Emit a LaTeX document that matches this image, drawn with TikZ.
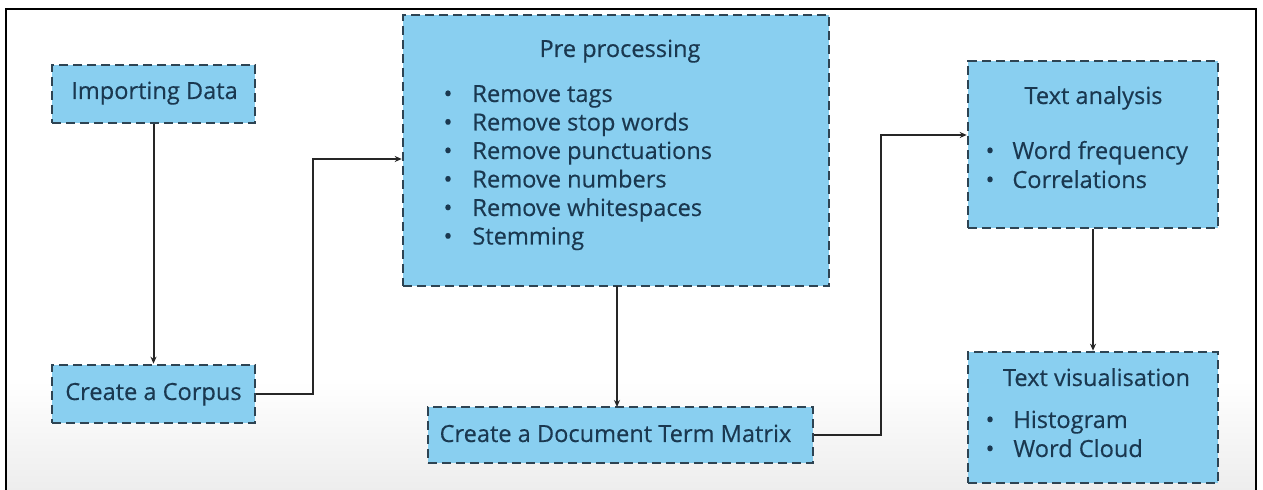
\documentclass[tikz,border=0pt]{standalone}
\usepackage{fontspec}
\setmainfont{Open Sans}
\newfontfamily\boxfont[FakeBold=0.35]{Open Sans}
\usetikzlibrary{fit,arrows.meta,calc}
\definecolor{boxfill}{HTML}{89CFF0}
\definecolor{boxline}{HTML}{2E4453}
\definecolor{txt}{HTML}{1A3850}
\begin{document}
\begin{tikzpicture}[x=0.5pt,y=-0.5pt,
  box/.style={draw=boxline, fill=boxfill, line width=1.3pt, dash pattern=on 4.6pt off 2.4pt,
    inner sep=0pt},
  lbl/.style={text=txt, font=\boxfont\fontsize{11.8}{14}\selectfont, inner sep=0pt, anchor=base west},
  ttl/.style={text=txt, font=\boxfont\fontsize{11.8}{14}\selectfont, inner sep=0pt, anchor=base},
  bul/.style={text=txt, font=\boxfont\fontsize{11.8}{14}\selectfont, inner sep=0pt, anchor=base},
  arr/.style={draw=black!85, line width=1pt, -{Stealth[length=3.5pt,width=3pt]}}]
\useasboundingbox (0,0) rectangle (1263,490);
\fill[white] (0,0) rectangle (1263,490);
\shade[top color=white, bottom color=black!7] (6,380) rectangle (1256,490);
\draw[line width=1pt] (6,491) -- (6,9) -- (1256,9) -- (1256,491);

% boxes
\node[box, fit={(52,65) (255,123)}] (imp) {};
\node[box, fit={(52,365) (255,423)}] (corp) {};
\node[box, fit={(403,15) (829,286)}] (pre) {};
\node[box, fit={(428,407) (813,463)}] (dtm) {};
\node[box, fit={(968,61) (1218,228)}] (ta) {};
\node[box, fit={(968,352) (1218,483)}] (tv) {};

% single-line labels
\node[ttl] (impt) at (154.5,99) {Importing Data};
\node[ttl] (corpt) at (153.5,400) {Create a Corpus};
\node[ttl] (dtmt) at (615.5,442) {Create a Document Term Matrix};

% pre processing contents
\node[ttl] (pret) at (620,57) {Pre processing};
\foreach \i/\t [count=\k] in {102/Remove tags,130.5/Remove stop words,159/Remove punctuations,187.5/Remove numbers,216/Remove whitespaces,244.5/Stemming}{
  \node[bul] (preb\k) at (448,\i) {•};
  \node[lbl] (prel\k) at (472,\i) {\t};
}
% text analysis contents
\node[ttl] (tat) at (1093.5,104) {Text analysis};
\node[bul] (tab1) at (990,159) {•};
\node[lbl] (tal1) at (1012,159) {Word frequency};
\node[bul] (tab2) at (990,188) {•};
\node[lbl] (tal2) at (1012,188) {Correlations};
% text visualisation contents
\node[ttl] (tvt) at (1096.5,386) {Text visualisation};
\node[bul] (tvb1) at (990,428) {•};
\node[lbl] (tvl1) at (1013,428) {Histogram};
\node[bul] (tvb2) at (990,457) {•};
\node[lbl] (tvl2) at (1013,457) {Word Cloud};

% connectors
\coordinate (c1) at (313,159);
\coordinate (c2) at (881,135);
\draw[arr] (imp) -- (corp);
\draw[arr] (corp.east) -| (c1) -- (c1 -| pre.west);
\draw[arr] (617,286) -- (617,407);
\draw[arr] (dtm.east) -| (c2) -- (c2 -| ta.west);
\draw[arr] (ta) -- (tv);
\end{tikzpicture}
\end{document}
